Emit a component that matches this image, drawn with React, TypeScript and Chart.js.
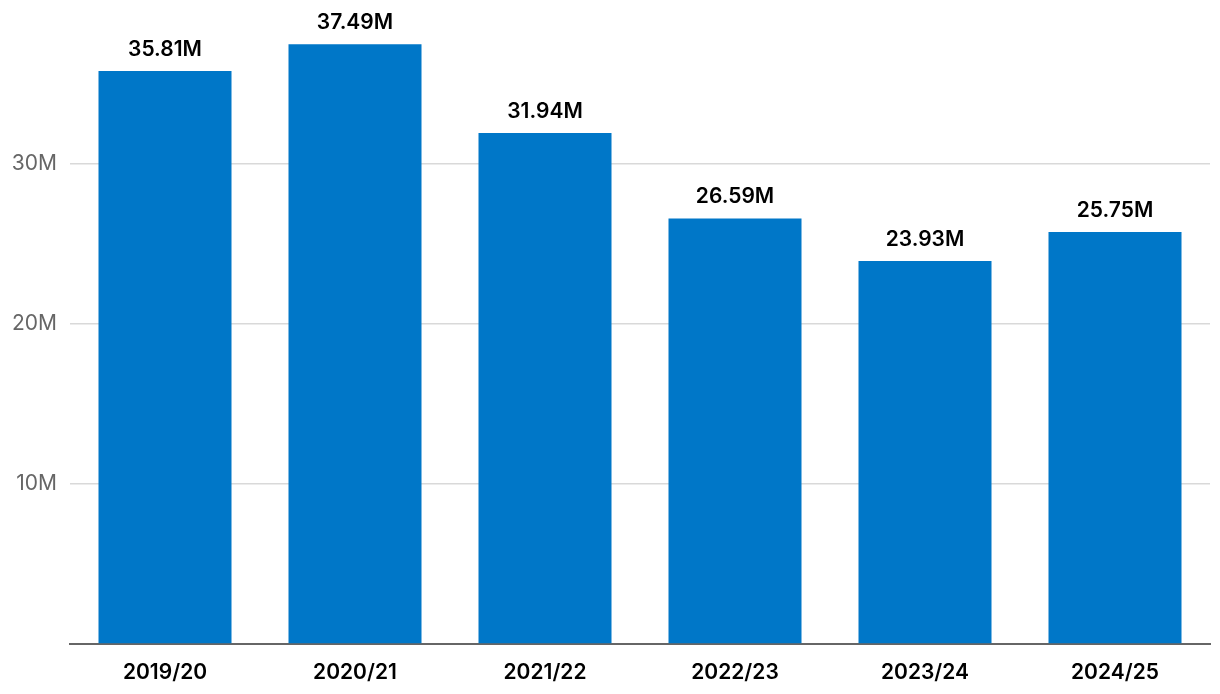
import React, { useEffect, useRef } from "react";
import { Chart, registerables } from "chart.js";

Chart.register(...registerables);

const categories = ["2019/20", "2020/21", "2021/22", "2022/23", "2023/24", "2024/25"];
const values = [35.81, 37.49, 31.94, 26.59, 23.93, 25.75];
const valueLabels = ["35.81M", "37.49M", "31.94M", "26.59M", "23.93M", "25.75M"];
const yTicks = [10, 20, 30];

const barLabelPlugin = {
  id: "barLabels",
  afterDatasetsDraw(chart: any) {
    const ctx = chart.ctx;
    const meta = chart.getDatasetMeta(0);
    ctx.save();
    ctx.font = "600 21px Inter";
    ctx.fillStyle = "#000000";
    ctx.textAlign = "center";
    ctx.textBaseline = "bottom";
    meta.data.forEach((bar: any, i: number) => {
      ctx.fillText(valueLabels[i], bar.x, bar.y - 11);
    });
    ctx.restore();
  },
};

export default function App() {
  const ref = useRef<HTMLCanvasElement>(null);
  useEffect(() => {
    const chart = new Chart(ref.current!, {
      type: "bar",
      data: {
        labels: categories,
        datasets: [
          {
            data: values,
            backgroundColor: "#0077c8",
            barPercentage: 0.7,
            categoryPercentage: 1,
          },
        ],
      },
      options: {
        animation: false,
        responsive: false,
        maintainAspectRatio: false,
        layout: { padding: { top: 4, right: 10, left: 0, bottom: 0 } },
        plugins: { legend: { display: false }, tooltip: { enabled: false } },
        scales: {
          x: {
            grid: { display: false },
            border: { color: "#666666", width: 2 },
            ticks: {
              color: "#000000",
              font: { family: "Inter", size: 21, weight: "600" },
              padding: 8,
            },
            afterFit(scale: any) {
              scale.height = 50;
            },
          },
          y: {
            min: 0,
            max: 40,
            afterBuildTicks(scale: any) {
              scale.ticks = [0, ...yTicks].map((v) => ({ value: v }));
            },
            grid: {
              color: (c: any) =>
                c.tick && yTicks.includes(c.tick.value) ? "#d9d9d9" : "rgba(0,0,0,0)",
              lineWidth: 1.5,
              drawTicks: false,
            },
            border: { display: false },
            ticks: {
              color: "#666666",
              font: { family: "Inter", size: 21, weight: "400" },
              padding: 13,
              callback: (v: any) => (yTicks.includes(v) ? v + "M" : ""),
            },
            afterFit(scale: any) {
              scale.width = 70;
              scale.paddingTop = 0;
            },
          },
        },
      },
      plugins: [barLabelPlugin],
    });
    return () => chart.destroy();
  }, []);
  return (
    <div style={{ position: "fixed", left: 0, top: 0, width: 1220, height: 694, background: "#fff" }}>
      <canvas ref={ref} width={1220} height={694} />
    </div>
  );
}
